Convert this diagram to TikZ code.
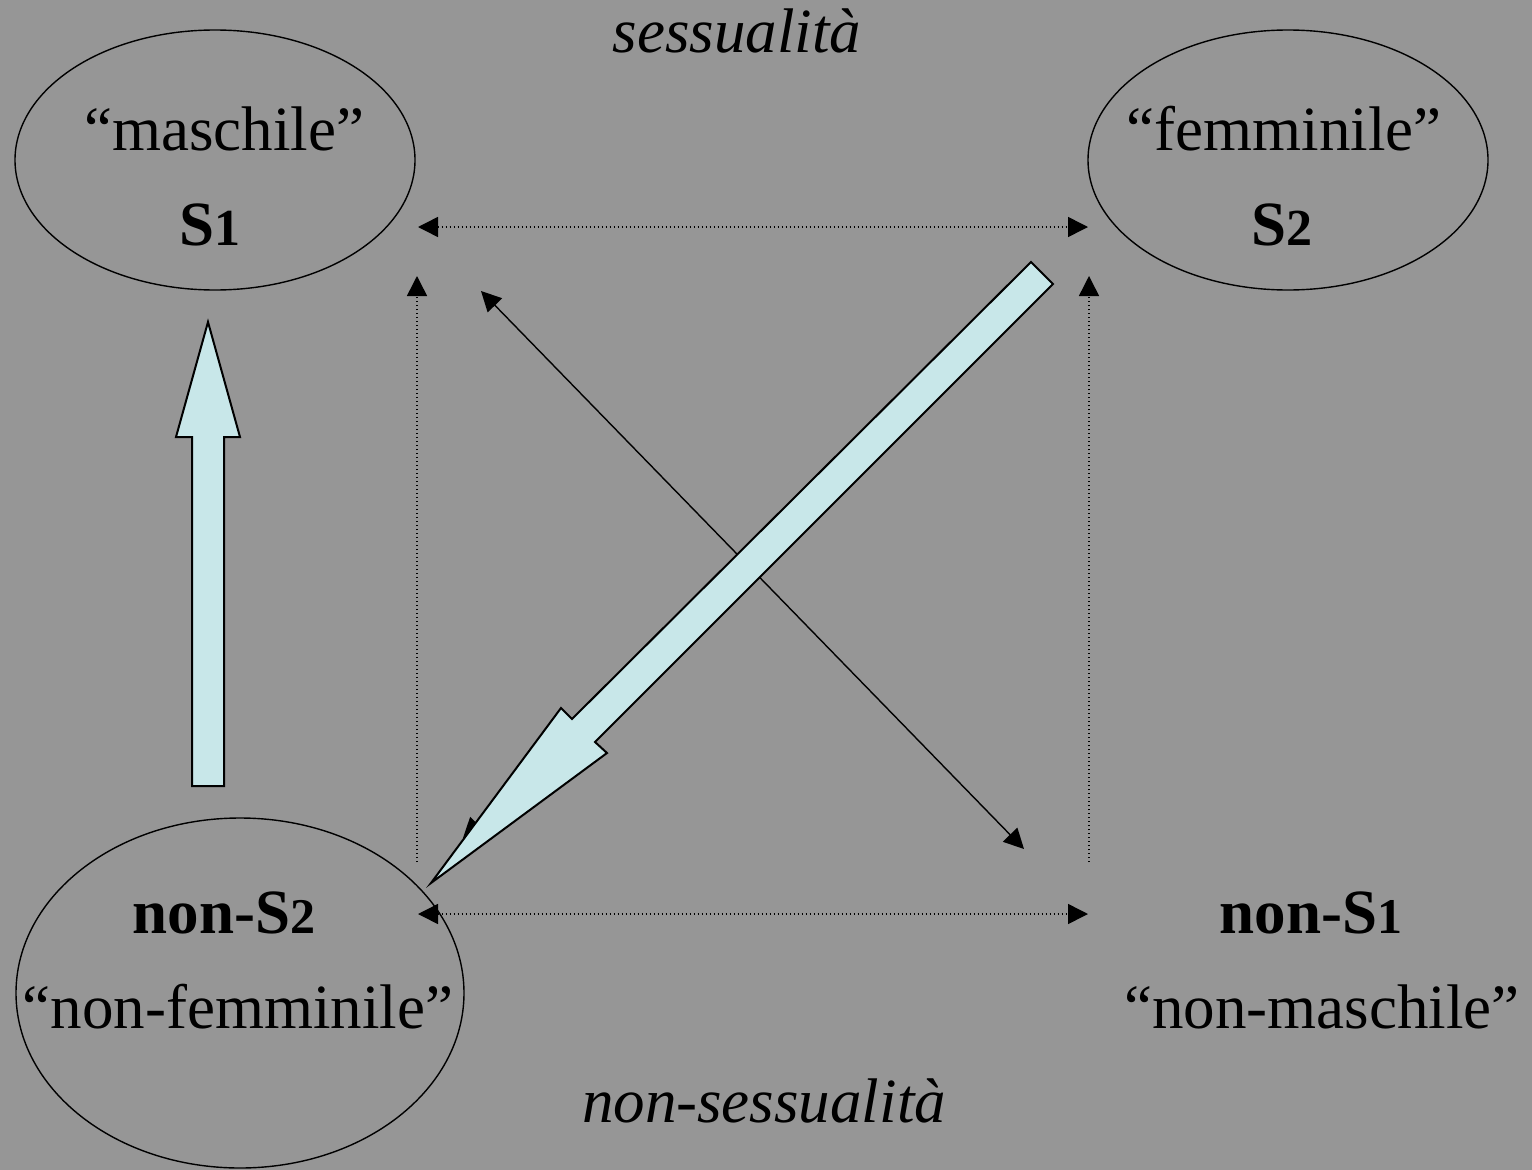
\documentclass[tikz,border=0pt]{standalone}
\usepackage{fontspec}
\setmainfont{Liberation Serif}
\usetikzlibrary{arrows.meta,shapes.geometric}
\definecolor{bgc}{RGB}{150,150,150}
\definecolor{pale}{RGB}{200,231,233}
\begin{document}
\begin{tikzpicture}[x=1pt,y=-1pt,
  oval/.style={draw=black,line width=1.4pt,ellipse,inner sep=0pt},
  txt/.style={anchor=base,inner sep=0pt,font=\fontsize{63}{70}\selectfont},
  btxt/.style={anchor=base,inner sep=0pt,font=\fontsize{63}{70}\selectfont\bfseries},
  itxt/.style={anchor=base,inner sep=0pt,font=\fontsize{63}{70}\selectfont\itshape},
  dotconn/.style={line width=1.5pt,dash pattern=on 1.5pt off 2.5pt},
  solconn/.style={line width=1.4pt},
  arrend/.style={-{Triangle[length=20pt,width=20pt]}},
  arrboth/.style={{Triangle[length=20pt,width=20pt]}-{Triangle[length=20pt,width=20pt]}},
  blockarrow/.style={draw=black,fill=pale,line width=2pt,line join=miter}]
\fill[bgc] (0,0) rectangle (1532,1170);
\useasboundingbox (0,0) rectangle (1532,1170);

% ovals
\node[oval,minimum width=400pt,minimum height=260pt] (m) at (215,160) {};
\node[oval,minimum width=400pt,minimum height=260pt] (f) at (1288,160) {};
\node[oval,minimum width=448pt,minimum height=350pt] (nf) at (240,993) {};

% texts
\node[itxt] (sess) at (737,52) {sessualità};
\node[itxt] (nsess) at (764,1122) {non-sessualità};
\node[txt] (mt) at (224,150) {“maschile”};
\node[btxt] (s1) at (210,245) {S{\fontsize{52}{60}\selectfont 1}};
\node[txt] (ft) at (1284,150) {“femminile”};
\node[btxt] (s2) at (1282,245) {S{\fontsize{52}{60}\selectfont 2}};
\node[btxt] (ns2) at (224,933) {non-S{\fontsize{50}{60}\selectfont 2}};
\node[txt] (nft) at (238,1028) {“non-femminile”};
\node[btxt] (ns1) at (1311,933) {non-S{\fontsize{50}{60}\selectfont 1}};
\node[txt] (nmt) at (1322,1028) {“non-maschile”};

% connector end points
\coordinate (tl) at (418,227);
\coordinate (tr) at (1088,227);
\coordinate (bl) at (418,914);
\coordinate (br) at (1088,914);
\coordinate (lvt) at (417,276);
\coordinate (lvb) at (417,862);
\coordinate (rvt) at (1089,276);
\coordinate (rvb) at (1089,862);
\coordinate (d1a) at (481,291);
\coordinate (d1b) at (1024,849);
\coordinate (d2a) at (1042,272);
\coordinate (d2b) at (463,838);

\draw[dotconn,arrboth] (tl) -- (tr);
\draw[dotconn,arrboth] (bl) -- (br);
\draw[dotconn,arrend] (lvb) -- (lvt);
\draw[dotconn,arrend] (rvb) -- (rvt);
\draw[solconn,arrboth] (d1a) -- (d1b);
\draw[solconn,arrend] (d2a) -- (d2b);

% block arrows
\draw[blockarrow] (192,786) -- (224,786) -- (224,437) -- (240,437) -- (208,322) -- (176,437) -- (192,437) -- cycle;
\draw[blockarrow] (1031,262) -- (1053,284) -- (595,742) -- (607,753) -- (431,883) -- (561,708) -- (572,719) -- cycle;
\end{tikzpicture}
\end{document}
